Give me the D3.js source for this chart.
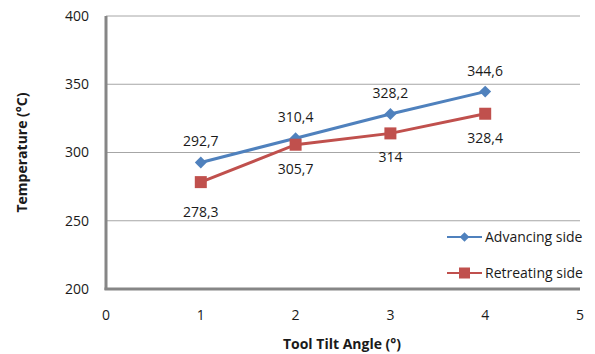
<!DOCTYPE html>
<html>
<head>
<meta charset="utf-8">
<script src="https://cdn.jsdelivr.net/npm/d3@7"></script>
<style>
  body { margin: 0; background: #fff; }
  text { font-family: "Open Sans", "Liberation Sans", Arial, sans-serif; }
</style>
</head>
<body>
<div id="graph"></div>
<script>
var angles = [1, 2, 3, 4],
	advancing = [292.7, 310.4, 328.2, 344.6],
	retreating = [278.3, 305.7, 314, 328.4],
	advLabels = ["292,7", "310,4", "328,2", "344,6"],
	retLabels = ["278,3", "305,7", "314", "328,4"],
	xTicks = [0, 1, 2, 3, 4, 5],
	yTicks = [200, 250, 300, 350, 400];

var W = 595, H = 354,
	margin = {top: 16, right: 15, bottom: 65, left: 106},
	width = W - margin.left - margin.right,
	height = H - margin.top - margin.bottom,
	fs = 14;

var svg = d3.select("#graph").append("svg")
	.attr("width", W)
	.attr("height", H);

var x = d3.scaleLinear().domain([0, 5]).range([margin.left, margin.left + width]),
	y = d3.scaleLinear().domain([200, 400]).range([margin.top + height, margin.top]);

// gridlines
svg.append("g").selectAll("line")
	.data(yTicks.slice(1)).enter()
	.append("line")
	.attr("x1", x(0)).attr("x2", x(5))
	.attr("y1", function(d){ return y(d); })
	.attr("y2", function(d){ return y(d); })
	.attr("stroke", "#a6a6a6")
	.attr("stroke-width", 1);

// axes lines
svg.append("line")
	.attr("x1", x(0)).attr("x2", x(0))
	.attr("y1", y(400)).attr("y2", y(200) + 1)
	.attr("stroke", "#868686").attr("stroke-width", 3);
svg.append("line")
	.attr("x1", x(0) - 1.5).attr("x2", x(5))
	.attr("y1", y(200)).attr("y2", y(200))
	.attr("stroke", "#868686").attr("stroke-width", 3);

// tick labels
svg.append("g").selectAll("text")
	.data(yTicks).enter()
	.append("text")
	.attr("x", x(0) - 17)
	.attr("y", function(d){ return y(d); })
	.attr("dy", "0.35em")
	.attr("text-anchor", "end")
	.attr("font-size", fs)
	.attr("fill", "#1a1a1a")
	.text(function(d){ return d; });

svg.append("g").selectAll("text")
	.data(xTicks).enter()
	.append("text")
	.attr("x", function(d){ return x(d); })
	.attr("y", y(200) + 31)
	.attr("text-anchor", "middle")
	.attr("font-size", fs)
	.attr("fill", "#1a1a1a")
	.text(function(d){ return d; });

// axis titles
svg.append("text")
	.attr("transform", "translate(27," + (margin.top + height / 2) + ") rotate(-90)")
	.attr("text-anchor", "middle")
	.attr("font-size", fs)
	.attr("font-weight", "bold")
	.attr("fill", "#1a1a1a")
	.text("Temperature  (°C)");

svg.append("text")
	.attr("x", 342)
	.attr("y", 349)
	.attr("text-anchor", "middle")
	.attr("font-size", fs)
	.attr("font-weight", "bold")
	.attr("fill", "#1a1a1a")
	.text("Tool Tilt Angle (°)");

var line = d3.line()
	.x(function(d){ return x(d[0]); })
	.y(function(d){ return y(d[1]); });

var advData = d3.zip(angles, advancing),
	retData = d3.zip(angles, retreating);

var blue = "#4f81bd", red = "#c0504d";

svg.append("path").datum(advData)
	.attr("d", line).attr("fill", "none")
	.attr("stroke", blue).attr("stroke-width", 3);
svg.append("path").datum(retData)
	.attr("d", line).attr("fill", "none")
	.attr("stroke", red).attr("stroke-width", 3);

svg.append("g").selectAll("path")
	.data(advData).enter()
	.append("path")
	.attr("d", d3.symbol(d3.symbolDiamond2, 90))
	.attr("transform", function(d){ return "translate(" + x(d[0]) + "," + y(d[1]) + ")"; })
	.attr("fill", blue);

svg.append("g").selectAll("rect")
	.data(retData).enter()
	.append("rect")
	.attr("x", function(d){ return x(d[0]) - 6; })
	.attr("y", function(d){ return y(d[1]) - 6; })
	.attr("width", 12).attr("height", 12)
	.attr("fill", red);

// data labels
svg.append("g").selectAll("text")
	.data(advData).enter()
	.append("text")
	.attr("x", function(d){ return x(d[0]); })
	.attr("y", function(d){ return y(d[1]) - 16; })
	.attr("text-anchor", "middle")
	.attr("font-size", fs)
	.attr("fill", "#1a1a1a")
	.text(function(d, i){ return advLabels[i]; });

svg.append("g").selectAll("text")
	.data(retData).enter()
	.append("text")
	.attr("x", function(d){ return x(d[0]); })
	.attr("y", function(d, i){ return y(d[1]) + (i == 0 ? 35 : 29); })
	.attr("text-anchor", "middle")
	.attr("font-size", fs)
	.attr("fill", "#1a1a1a")
	.text(function(d, i){ return retLabels[i]; });

// legend
var legend = svg.append("g").attr("transform", "translate(447,0)");
var items = [
	{name: "Advancing side", color: blue, y: 237, shape: "diamond"},
	{name: "Retreating side", color: red, y: 273, shape: "square"}
];
items.forEach(function(it){
	legend.append("line")
		.attr("x1", 0).attr("x2", 35)
		.attr("y1", it.y).attr("y2", it.y)
		.attr("stroke", it.color).attr("stroke-width", 2);
	if (it.shape == "diamond"){
		legend.append("path")
			.attr("d", d3.symbol(d3.symbolDiamond2, 60))
			.attr("transform", "translate(17.5," + it.y + ")")
			.attr("fill", it.color);
	} else {
		legend.append("rect")
			.attr("x", 12).attr("y", it.y - 5.5)
			.attr("width", 11).attr("height", 11)
			.attr("fill", it.color);
	}
	legend.append("text")
		.attr("x", 38).attr("y", it.y)
		.attr("dy", "0.35em")
		.attr("font-size", fs)
		.attr("fill", "#1a1a1a")
		.text(it.name);
});
</script>
</body>
</html>
